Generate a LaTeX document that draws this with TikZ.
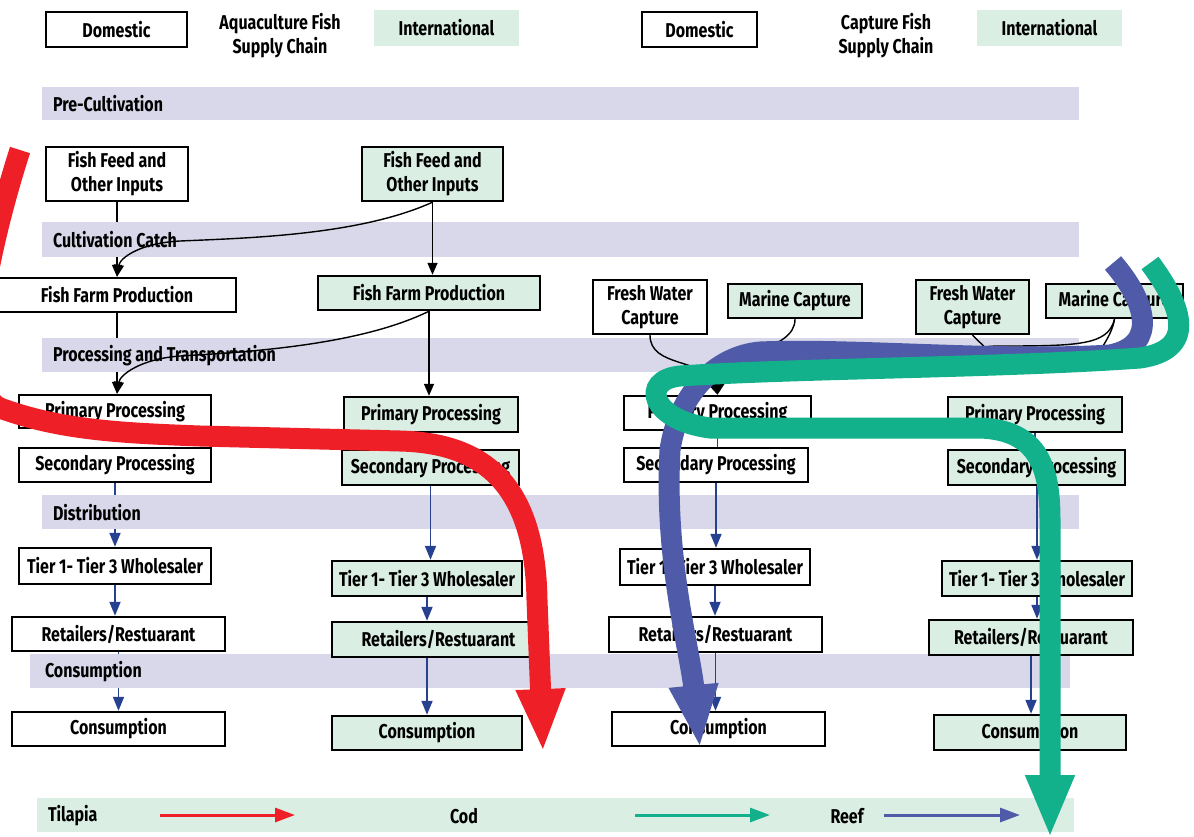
\documentclass[tikz,border=0pt]{standalone}
\usepackage{fontspec}
\setmainfont{Fira Sans}[FakeStretch=0.8]
\usepackage{tikz}
\usetikzlibrary{arrows.meta}

\definecolor{bandgray}{HTML}{D9D8EA}
\definecolor{intgreen}{HTML}{DAEEE4}
\definecolor{linkblue}{HTML}{26418F}
\definecolor{tilred}{HTML}{EE1F26}
\definecolor{codgreen}{HTML}{13B08C}
\definecolor{reefblue}{HTML}{4F5BA8}

\pgfdeclarelayer{back}
\pgfdeclarelayer{bands}
\pgfsetlayers{back,bands,main}

\tikzset{
  box/.style={draw, line width=1.2pt, fill=white, inner sep=1pt, align=center},
  ibox/.style={box, fill=intgreen},
  band/.style={fill=bandgray},
  link/.style={line width=0.7pt, -{Triangle[length=6pt,width=5pt]}},
  plainlink/.style={line width=0.7pt},
  bluelink/.style={draw=linkblue, line width=0.9pt, -{Triangle[length=7pt,width=5.5pt]}},
  bluebar/.style={draw=linkblue, line width=0.9pt},
  flow/.style={line width=10.5pt, -{Triangle[length=31.5pt,width=22.5pt]}},
  key/.style={line width=1.5pt, -{Triangle[length=10pt,width=7pt]}}
}

\begin{document}
\begin{tikzpicture}[x=0.5pt,y=-0.5pt,font=\fontsize{10}{12}\selectfont\bfseries]
\useasboundingbox (0,0) rectangle (1194,836);
\clip (0,0) rectangle (1194,836);

% headings
\node[box, minimum width=70.5pt, minimum height=17.5pt] (domA) at (116.5,29.5) {Domestic};
\node[align=center] (titleA) at (280,36) {Aquaculture Fish\\Supply Chain};
\node[fill=intgreen, minimum width=72.5pt, minimum height=18pt] (intA) at (446.5,28) {International};
\node[box, minimum width=57.5pt, minimum height=17.5pt] (domC) at (699.5,29.5) {Domestic};
\node[align=center] (titleC) at (886,36) {Capture Fish\\Supply Chain};
\node[fill=intgreen, minimum width=72.5pt, minimum height=18pt] (intC) at (1049.5,28) {International};

% stage bands
\begin{pgfonlayer}{bands}
  \fill[band] (42,87) rectangle (1079,120);
  \node[anchor=west] (preCult) at (46,104) {Pre-Cultivation};
  \fill[band] (42,222) rectangle (1079,257);
  \node[anchor=west] (cultCatch) at (46,240) {Cultivation Catch};
  \fill[band] (42,338) rectangle (1079,372);
  \node[anchor=west] (procTrans) at (46,356) {Processing and Transportation};
  \fill[band] (42,495) rectangle (1079,529);
  \node[anchor=west] (distrib) at (46,513) {Distribution};
  \fill[band] (30,654) rectangle (1070,688);
  \node[anchor=west] (consump) at (38,672) {Consumption};
\end{pgfonlayer}

% aquaculture, domestic
\node[box, minimum width=71pt, minimum height=27pt] (feedA) at (117,174) {Fish Feed and\\Other Inputs};
\node[box, minimum width=119pt, minimum height=17pt] (farmA) at (117,295) {Fish Farm Production};
\node[box, minimum width=96pt, minimum height=16.5pt] (primA) at (115,411.5) {Primary Processing};
\node[box, minimum width=96pt, minimum height=17pt] (secA) at (115,465) {Secondary Processing};
\node[box, minimum width=96pt, minimum height=18pt] (tierA) at (115,566) {Tier 1- Tier 3 Wholesaler};
\node[box, minimum width=106.5pt, minimum height=17pt] (retA) at (118.5,634) {Retailers/Restuarant};
\node[box, minimum width=106.5pt, minimum height=17pt] (consA) at (118.5,729) {Consumption};

% aquaculture, international
\node[ibox, minimum width=70.5pt, minimum height=27pt] (feedB) at (432.5,174) {Fish Feed and\\Other Inputs};
\node[ibox, minimum width=111pt, minimum height=17pt] (farmB) at (429,293) {Fish Farm Production};
\node[ibox, minimum width=87pt, minimum height=17.5pt] (primB) at (431,414.5) {Primary Processing};
\node[ibox, minimum width=88.5pt, minimum height=17.5pt] (secB) at (430.5,467.5) {Secondary Processing};
\node[ibox, minimum width=95pt, minimum height=17.5pt] (tierB) at (427,578.5) {Tier 1- Tier 3 Wholesaler};
\node[ibox, minimum width=106.5pt, minimum height=17.5pt] (retB) at (438.5,639.5) {Retailers/Restuarant};
\node[ibox, minimum width=95pt, minimum height=17pt] (consB) at (427,733) {Consumption};

% capture, domestic
\node[box, minimum width=57pt, minimum height=27pt] (freshC) at (650,307) {Fresh Water\\Capture};
\node[ibox, minimum width=67pt, minimum height=17pt] (marineC) at (795,301) {Marine Capture};
\node[box, minimum width=93.5pt, minimum height=17pt] (primC) at (717.5,413) {Primary Processing};
\node[box, minimum width=92pt, minimum height=17pt] (secC) at (716,465) {Secondary Processing};
\node[box, minimum width=95pt, minimum height=18pt] (tierC) at (715,567) {Tier 1- Tier 3 Wholesaler};
\node[box, minimum width=106.5pt, minimum height=17.5pt] (retC) at (715.5,634.5) {Retailers/Restuarant};
\node[box, minimum width=106.5pt, minimum height=17pt] (consC) at (718.5,729) {Consumption};

% capture, international
\node[ibox, minimum width=56.5pt, minimum height=27pt] (freshD) at (972.5,307) {Fresh Water\\Capture};
\node[ibox, minimum width=68.5pt, minimum height=17pt] (marineD) at (1114.5,301) {Marine Capture};
\node[ibox, minimum width=87pt, minimum height=17.5pt] (primD) at (1035,414.5) {Primary Processing};
\node[ibox, minimum width=88.5pt, minimum height=17.5pt] (secD) at (1036.5,467.5) {Secondary Processing};
\node[ibox, minimum width=95pt, minimum height=17.5pt] (tierD) at (1037,578.5) {Tier 1- Tier 3 Wholesaler};
\node[ibox, minimum width=102pt, minimum height=17.5pt] (retD) at (1031,637.5) {Retailers/Restuarant};
\node[ibox, minimum width=96pt, minimum height=17.5pt] (consD) at (1030,732.5) {Consumption};

% links hidden by the bands
\begin{pgfonlayer}{back}
  \draw[link] (feedA.south) -- (farmA.north);
  \draw[link] (farmA.south) -- (farmA.south |- primA.north);
  \draw[bluelink] (secA.south) -- (tierA.north);
  \draw[bluelink] (retA.south) -- (retA.south |- consA.north);
\end{pgfonlayer}
\draw[bluelink] (tierA.south) -- (tierA.south |- retA.north);

\draw[link] (feedB.south) -- (feedB.south |- farmB.north);
\draw[link] (feedB.south) .. controls (360,235) and (250,238) .. (180,241)
  .. controls (140,243) and (120,258) .. (farmA.north);
\draw[link] (farmB.south) -- (farmB.south |- primB.north);
\draw[link] (farmB.south) .. controls (360,345) and (250,352) .. (180,356)
  .. controls (140,359) and (120,375) .. (farmA.south |- primA.north);
\draw[bluelink] (secB.south) -- (secB.south |- tierB.north);
\draw[bluelink] (tierB.south) -- (tierB.south |- retB.north);
\draw[bluelink] (retB.south -| tierB.south) -- (tierB.south |- consB.north);

\draw[link] (freshC.south) .. controls (650,368) and (705,358) .. (primC.north);
\draw[link] (marineC.south) .. controls (795,352) and (725,350) .. (primC.north);
\draw[bluebar] (primC.south) -- (primC.south |- secC.north);
\draw[bluelink] (secC.south) -- (secC.south |- tierC.north);
\draw[bluelink] (tierC.south) -- (tierC.south |- retC.north);
\draw[bluelink] (retC.south) -- (retC.south |- consC.north);

\coordinate (freshEnd) at (1000,362);
\coordinate (marineEnd) at (1090,366);
\coordinate (marineBend) at (950,364);
\draw[plainlink] (freshD.south) -- (freshEnd);
\draw[plainlink] (marineD.south) .. controls (1112,335) and (1100,350) .. (marineEnd);
\draw[plainlink] (marineD.south) .. controls (1108,345) and (1080,346) .. (1000,346)
  .. controls (975,346) and (960,352) .. (marineBend);
\draw[bluebar] (primD.south) -- (primD.south |- secD.north);
\draw[bluelink] (secD.south -| tierD.south) -- (tierD.north);
\draw[bluelink] (tierD.south) -- (tierD.south |- retD.north);
\draw[bluelink] (retD.south) -- (retD.south |- consD.north);

% legend
\fill[intgreen] (37,798) rectangle (1074,832);
\node[anchor=west] (tilapia) at (41,816) {Tilapia};
\node (cod) at (464,816) {Cod};
\node (reef) at (847,816) {Reef};
\coordinate (tilS) at (160,815);
\coordinate (tilE) at (295,815);
\coordinate (codS) at (635,815);
\coordinate (codE) at (770,815);
\coordinate (reefS) at (884,815);
\coordinate (reefE) at (1020,815);
\draw[key, tilred] (tilS) -- (tilE);
\draw[key, codgreen] (codS) -- (codE);
\draw[key, reefblue] (reefS) -- (reefE);

% species flows
\draw[flow, tilred] (20,150) .. controls (-15,260) and (-40,390) .. (0,408)
  .. controls (60,430) and (120,433) .. (200,436) -- (400,441)
  .. controls (480,443) and (535,480) .. (537,600) -- (543,752);
\draw[flow, reefblue] (1113,263) .. controls (1145,300) and (1160,345) .. (1110,355)
  .. controls (1000,362) and (850,348) .. (760,352)
  .. controls (715,356) and (678,395) .. (670,450)
  .. controls (664,560) and (690,650) .. (700,748);
\draw[flow, codgreen] (1150,263) .. controls (1185,310) and (1195,350) .. (1140,358)
  .. controls (1000,368) and (800,368) .. (680,376)
  .. controls (640,380) and (650,420) .. (710,428) -- (980,428)
  .. controls (1040,430) and (1050,470) .. (1050,520) -- (1050,838);
\end{tikzpicture}
\end{document}
